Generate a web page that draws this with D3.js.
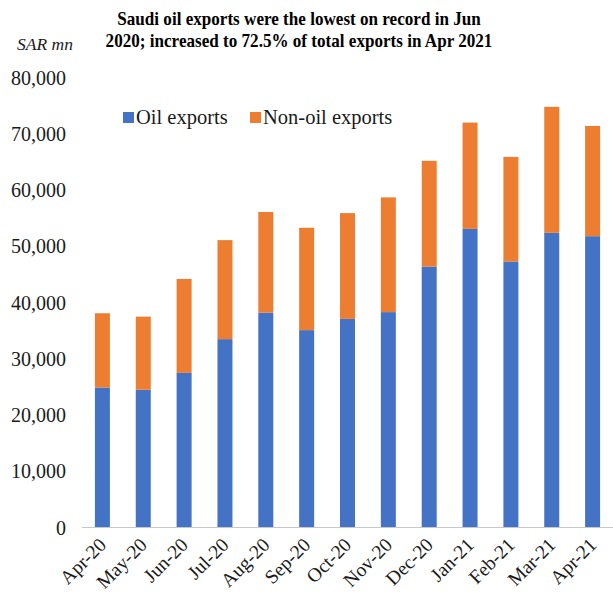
<!DOCTYPE html>
<html>
<head>
<meta charset="utf-8">
<script src="https://cdn.jsdelivr.net/npm/d3@7"></script>
<style>
  html, body { margin: 0; padding: 0; background: #fff; }
  svg { display: block; font-family: "Liberation Serif", "Times New Roman", serif; }
</style>
</head>
<body>
<svg id="chart" width="613" height="595"></svg>
<script>
// Monthly Saudi merchandise exports, SAR million
const months = ["Apr-20", "May-20", "Jun-20", "Jul-20", "Aug-20", "Sep-20", "Oct-20",
                "Nov-20", "Dec-20", "Jan-21", "Feb-21", "Mar-21", "Apr-21"];
const oilExports    = [24800, 24400, 27400, 33400, 38100, 35000, 37000, 38200, 46300, 53000, 47200, 52300, 51700];
const nonOilExports = [13200, 13000, 16700, 17600, 17900, 18200, 18800, 20400, 18800, 18900, 18600, 22400, 19600];
const seriesNames = ["Oil exports", "Non-oil exports"];
const seriesColors = ["#4472C4", "#ED7D31"];
const yTicks = [0, 10000, 20000, 30000, 40000, 50000, 60000, 70000, 80000];
const titleLines = ["Saudi oil exports were the lowest on record in Jun",
                    "2020; increased to 72.5% of total exports in Apr 2021"];
const unitLabel = "SAR mn";

const svg = d3.select("#chart");

const x = d3.scaleBand().domain(months).range([82, 613]).paddingInner(0.633).paddingOuter(0.316);
const y = d3.scaleLinear().domain([0, 80000]).range([527, 77]);

// Stack the two series
const rows = months.map((m, i) => ({ month: m, oil: oilExports[i], nonoil: nonOilExports[i] }));
const stacked = d3.stack().keys(["oil", "nonoil"])(rows);

svg.append("g")
  .selectAll("g")
  .data(stacked)
  .join("g")
  .attr("fill", (d, i) => seriesColors[i])
  .selectAll("rect")
  .data(d => d)
  .join("rect")
  .attr("x", d => x(d.data.month))
  .attr("width", x.bandwidth())
  .attr("y", d => y(d[1]))
  .attr("height", d => y(d[0]) - y(d[1]));

// Y axis: labels only
const yAxis = svg.append("g")
  .attr("transform", "translate(66,0)")
  .call(d3.axisLeft(y).tickValues(yTicks).tickFormat(d3.format(",")).tickSize(0).tickPadding(0));
yAxis.select(".domain").remove();
yAxis.selectAll("text")
  .attr("font-family", "Liberation Serif, serif")
  .attr("font-size", 20)
  .attr("fill", "#1a1a1a")
  .attr("dy", "0.35em");

// X axis baseline
svg.append("line")
  .attr("x1", 82).attr("x2", 613)
  .attr("y1", y(0) + 0.5).attr("y2", y(0) + 0.5)
  .attr("stroke", "#c8c8c8").attr("stroke-width", 1);

// X axis labels, rotated
const xAxis = svg.append("g")
  .attr("transform", `translate(0,${y(0)})`)
  .call(d3.axisBottom(x).tickSize(0).tickPadding(0));
xAxis.select(".domain").remove();
xAxis.selectAll("text")
  .attr("font-family", "Liberation Serif, serif")
  .attr("font-size", 19.5)
  .attr("fill", "#1a1a1a")
  .attr("text-anchor", "end")
  .attr("dy", null)
  .attr("y", 0)
  .attr("transform", "translate(5,19) rotate(-45)");

// Title, slightly condensed
const titleCx = 299;
svg.append("text")
  .attr("font-family", "Liberation Serif, serif")
  .attr("font-weight", "bold")
  .attr("font-size", 18)
  .attr("fill", "#000")
  .attr("text-anchor", "middle")
  .attr("transform", `translate(${titleCx},0) scale(0.95,1)`)
  .selectAll("tspan")
  .data(titleLines)
  .join("tspan")
  .attr("x", 0)
  .attr("y", (d, i) => 25 + i * 22)
  .text(d => d);

// Unit label
svg.append("text")
  .attr("x", 17).attr("y", 50)
  .attr("font-family", "Liberation Serif, serif")
  .attr("font-style", "italic")
  .attr("font-size", 17.5)
  .attr("fill", "#1a1a1a")
  .text(unitLabel);

// Legend
const legendX = [123, 250];
const legend = svg.append("g");
seriesNames.forEach((name, i) => {
  legend.append("rect")
    .attr("x", legendX[i]).attr("y", 112)
    .attr("width", 11).attr("height", 11)
    .attr("fill", seriesColors[i]);
  legend.append("text")
    .attr("x", legendX[i] + 13).attr("y", 124)
    .attr("font-family", "Liberation Serif, serif")
    .attr("font-size", 20.5)
    .attr("fill", "#1a1a1a")
    .text(name);
});
</script>
</body>
</html>
